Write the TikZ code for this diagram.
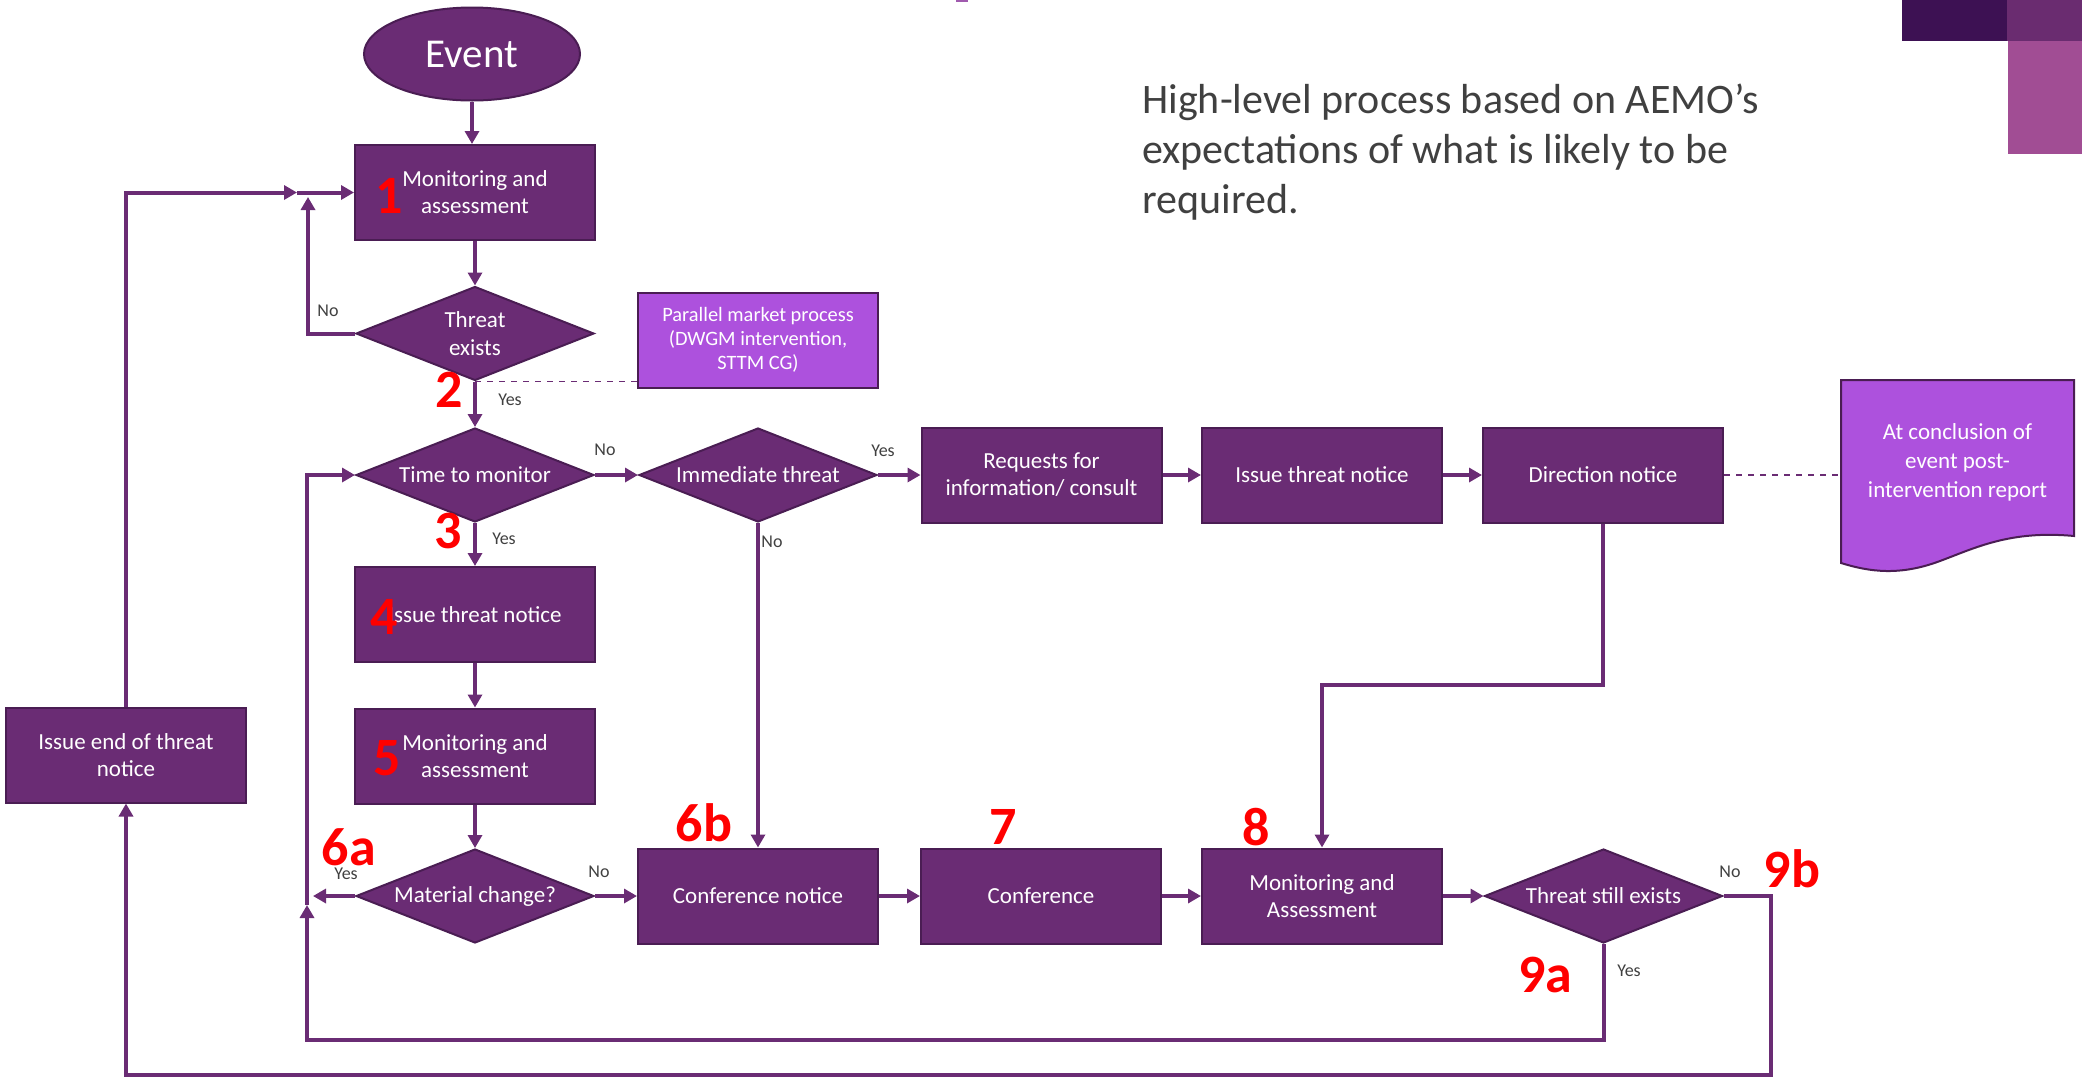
\documentclass[tikz,border=0pt]{standalone}
\usepackage{fontspec}
\setmainfont{Carlito}
\usetikzlibrary{shapes.geometric, arrows.meta}

\definecolor{aemo}{HTML}{6A2C74}
\definecolor{aemodark}{HTML}{4A1D53}
\definecolor{aemolight}{HTML}{AD51DD}
\definecolor{txtgrey}{HTML}{404040}

\begin{document}
\begin{tikzpicture}[x=0.5pt, y=-0.5pt,
  proc/.style={draw=aemodark, line width=1pt, fill=aemo, text=white, align=center, minimum width=120pt, minimum height=47.5pt, inner sep=2pt, font=\fontsize{11.5}{13.5}\selectfont},
  dec/.style={diamond, aspect=2.55, draw=aemodark, line width=1pt, fill=aemo, text=white, align=center, minimum width=119pt, minimum height=47pt, inner sep=0pt, font=\fontsize{11.5}{14}\selectfont},
  note/.style={draw=aemodark, line width=1pt, fill=aemolight, text=white, align=center, minimum width=120pt, minimum height=47.5pt, font=\fontsize{10.2}{12}\selectfont},
  lbl/.style={text=txtgrey, inner sep=0pt, font=\fontsize{9}{10}\selectfont},
  num/.style={text=red, inner sep=0pt, font=\fontsize{27}{27}\selectfont\bfseries},
  arr/.style={draw=aemo, line width=2pt, -{Triangle[length=6.5pt, width=7pt]}}]
\useasboundingbox (0,0) rectangle (2082,1077);

% corner marks
\fill[fill={rgb,255:red,61;green,17;blue,83}] (1902,0) rectangle (2007,41);
\fill[fill={rgb,255:red,106;green,44;blue,112}] (2007,0) rectangle (2082,41);
\fill[fill={rgb,255:red,161;green,77;blue,148}] (2008,41) rectangle (2082,154);
\fill[fill={rgb,255:red,160;green,90;blue,174}] (956,0) rectangle (968,2);

\node[anchor=north west, align=left, inner sep=0pt, text=txtgrey, font=\fontsize{21}{25}\selectfont] (title) at (1142,83) {High-level process based on AEMO’s\\expectations of what is likely to be\\required.};

% main column
\node[ellipse, draw=aemodark, line width=1pt, fill=aemo, text=white, minimum width=108pt, minimum height=46.5pt, font=\fontsize{20.5}{22}\selectfont] (event) at (472,54) {Event};
\node[proc] (mon1) at (475,192.5) {Monitoring and\\assessment};
\node[dec] (exists) at (475,333.5) {Threat\\exists};
\node[note] (parallel) at (758,340) {Parallel market process\\(DWGM intervention,\\STTM CG)};
\node[dec] (timemon) at (475,475) {Time to monitor};
\node[dec] (immediate) at (758,475) {Immediate threat};
\node[proc] (request) at (1041.5,475) {Requests for\\information/ consult};
\node[proc] (threat) at (1322,475) {Issue threat notice};
\node[proc] (direction) at (1603,475) {Direction notice};
\node[proc] (threat4) at (475,614.5) {Issue threat notice};
\node[proc] (mon5) at (475,756) {Monitoring and\\assessment};
\node[dec] (material) at (475,896) {Material change?};
\node[proc] (confnotice) at (758,896) {Conference notice};
\node[proc] (conf) at (1041,896) {Conference};
\node[proc] (mon8) at (1322,896) {Monitoring and\\Assessment};
\node[dec] (still) at (1603.5,896) {Threat still exists};
\node[proc] (endnotice) at (126,755) {Issue end of threat\\notice};

% report document
\filldraw[fill=aemolight, draw=aemodark, line width=1pt] (1841,380) -- (2074,380) -- (2074,536)
  .. controls (2010,530) and (1975,548) .. (1940,561)
  .. controls (1900,576) and (1870,572) .. (1841,563) -- cycle;
\node[text=white, align=center, minimum width=116.5pt, minimum height=78pt, font=\fontsize{11.5}{14.5}\selectfont] (report) at (1957.5,462) {At conclusion of\\event post-\\intervention report};

% connectors
\coordinate (notip) at (308,197);
\coordinate (outtip) at (297,192.5);
\coordinate (bend) at (1322,685);
\coordinate (yestip) at (313,896);
\coordinate (innerc) at (307,1040);
\coordinate (uptip) at (307,905);
\coordinate (outerc) at (1771,1075);

\draw[arr] (event.south) -- (event.south |- mon1.north);
\draw[arr] (mon1) -- (exists);
\draw[arr] (exists) -- (timemon);
\draw[arr] (exists.west) -| (notip);
\draw[arr] (endnotice.north) |- (outtip);
\draw[arr] (outtip) -- (mon1.west);
\draw[aemo, line width=0.8pt, dashed] (exists.south) -- (exists.south -| parallel.west);
\draw[arr] (timemon) -- (immediate);
\draw[arr] (immediate) -- (request);
\draw[arr] (request) -- (threat);
\draw[arr] (threat) -- (direction);
\draw[aemo, line width=0.8pt, dashed] (direction.east) -- (1841,475);
\draw[arr] (direction.south) |- (bend) -- (mon8.north);
\draw[arr] (immediate) -- (confnotice);
\draw[arr] (timemon) -- (threat4);
\draw[arr] (threat4) -- (mon5);
\draw[arr] (mon5) -- (material);
\draw[arr] (material.west) -- (yestip);
\draw[arr] (material) -- (confnotice);
\draw[arr] (confnotice) -- (conf);
\draw[arr] (conf) -- (mon8);
\draw[arr] (mon8) -- (still);
\draw[arr] (still.south) |- (innerc) -- (uptip);
\draw[arr] (uptip) |- (timemon.west);
\draw[arr] (still.east) -| (outerc) -| (endnotice.south);

% labels
\node[lbl] (no1) at (328,311) {No};
\node[lbl] (yes1) at (510,400) {Yes};
\node[lbl] (no2) at (605,450) {No};
\node[lbl] (yes2) at (883,451) {Yes};
\node[lbl] (no3) at (772,542) {No};
\node[lbl] (yes3) at (504,539) {Yes};
\node[lbl] (yes4) at (346,874) {Yes};
\node[lbl] (no4) at (599,872) {No};
\node[lbl] (no5) at (1730,872) {No};
\node[lbl] (yes5) at (1629,971) {Yes};

% step numbers
\node[num] (n1) at (389,196) {1};
\node[num] (n2) at (449,390) {2};
\node[num] (n3) at (448,531) {3};
\node[num] (n4) at (384,617) {4};
\node[num] (n5) at (387,758) {5};
\node[num] (n6a) at (349,847) {6a};
\node[num] (n6b) at (704,823) {6b};
\node[num] (n7) at (1003,827) {7};
\node[num] (n8) at (1256,827) {8};
\node[num] (n9a) at (1545,975) {9a};
\node[num] (n9b) at (1792,869) {9b};
\end{tikzpicture}
\end{document}
